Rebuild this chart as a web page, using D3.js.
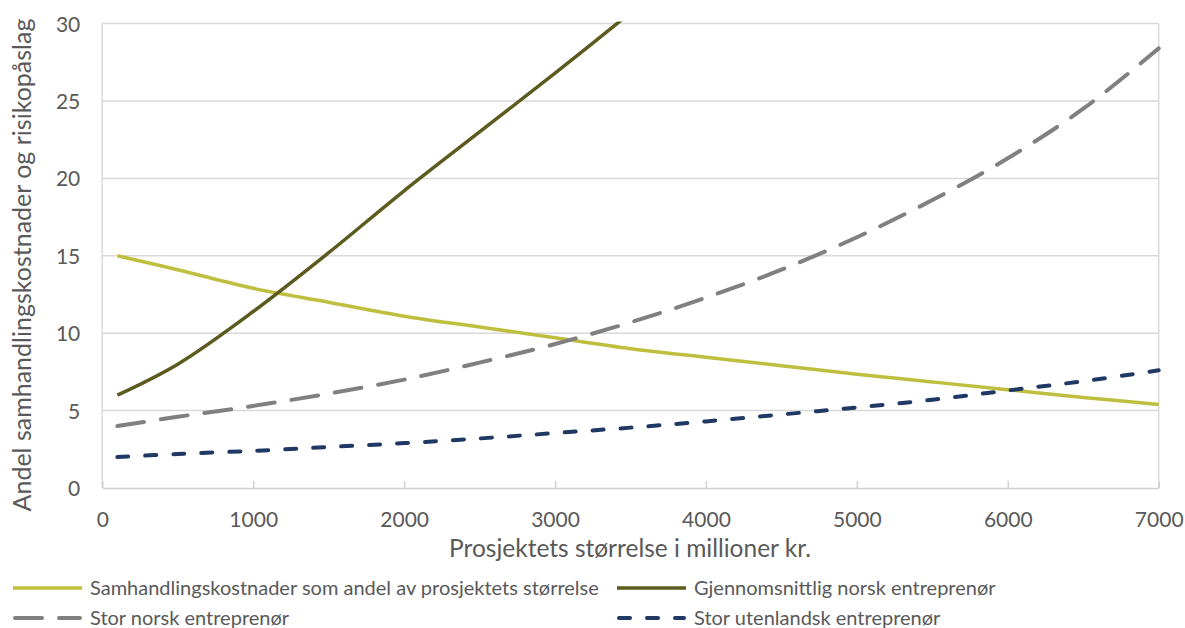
<!DOCTYPE html>
<html><head><meta charset="utf-8">
<script src="https://cdn.jsdelivr.net/npm/d3@7"></script>
<style>body{margin:0;background:#fff}svg{display:block}text{font-family:Lato,"Open Sans",sans-serif;fill:#595959}</style>
</head><body>
<svg id="c" width="1185" height="628"></svg>
<script>
const xValues = [100, 500, 1000, 1500, 2000, 2500, 3000, 3500, 4000, 4500, 5000, 5500, 6000, 6500, 7000];
const samhandling = [15, 14.1, 12.9, 12.0, 11.1, 10.4, 9.7, 9.0, 8.45, 7.9, 7.35, 6.85, 6.35, 5.85, 5.4];
const gjennomsnittligX = [100, 500, 1000, 1500, 2000, 2500, 3000, 3500];
const gjennomsnittlig = [6, 8.0, 11.4, 15.2, 19.2, 23.0, 26.8, 30.7];
const storNorsk = [4.0, 4.6, 5.3, 6.1, 7.0, 8.1, 9.3, 10.7, 12.3, 14.1, 16.2, 18.6, 21.3, 24.5, 28.4];
const storUtenlandsk = [2.0, 2.2, 2.4, 2.65, 2.9, 3.2, 3.55, 3.9, 4.3, 4.75, 5.2, 5.7, 6.3, 6.9, 7.6];
const xTicks = [0, 1000, 2000, 3000, 4000, 5000, 6000, 7000];
const yTicks = [0, 5, 10, 15, 20, 25, 30];
const seriesNames = ["Samhandlingskostnader som andel av prosjektets størrelse", "Gjennomsnittlig norsk entreprenør", "Stor norsk entreprenør", "Stor utenlandsk entreprenør"];
const xTitle = "Prosjektets størrelse i millioner kr.";
const yTitle = "Andel samhandlingskostnader og risikopåslag";

const svg = d3.select("#c");
const L = 102.3, R = 1158.7, T = 23.6, B = 488;
const x = d3.scaleLinear().domain([0, 7000]).range([L, R]);
const y = d3.scaleLinear().domain([0, 30]).range([B, T]);

// gridlines
svg.append("g").selectAll("line").data(yTicks.filter(d => d > 0)).join("line")
  .attr("x1", L).attr("x2", R).attr("y1", d => y(d)).attr("y2", d => y(d))
  .attr("stroke", "#d9d9d9").attr("stroke-width", 1.5);
// side borders
svg.append("line").attr("x1", L).attr("x2", L).attr("y1", T).attr("y2", B).attr("stroke", "#d9d9d9").attr("stroke-width", 1.5);
svg.append("line").attr("x1", R).attr("x2", R).attr("y1", T).attr("y2", B).attr("stroke", "#d9d9d9").attr("stroke-width", 1.5);

// x axis
const xa = svg.append("g").attr("transform", `translate(0,${B})`)
  .call(d3.axisBottom(x).tickValues(xTicks).tickSizeInner(-7).tickSizeOuter(0).tickPadding(0).tickFormat(d3.format("d")));
xa.select(".domain").attr("stroke", "#d0d0d0").attr("stroke-width", 1.5);
xa.selectAll(".tick line").attr("stroke", "#d0d0d0").attr("stroke-width", 1.5);
xa.selectAll(".tick text").attr("y", 39).attr("dy", null).attr("font-size", 21).style("fill", "#595959");

// y axis labels
const ya = svg.append("g").attr("transform", `translate(${L},0)`)
  .call(d3.axisLeft(y).tickValues(yTicks).tickSize(0).tickPadding(22));
ya.select(".domain").remove();
ya.selectAll(".tick text").attr("font-size", 21).attr("dy", "0.36em").style("fill", "#595959");

// titles
svg.append("text").attr("x", 630).attr("y", 557).attr("text-anchor", "middle").attr("font-size", 24.5).text(xTitle);
svg.append("text").attr("transform", "translate(31,265) rotate(-90)").attr("text-anchor", "middle").attr("font-size", 25).text(yTitle);

// clip
svg.append("clipPath").attr("id", "pc").append("rect").attr("x", L).attr("y", T - 2).attr("width", R - L + 3).attr("height", B - T + 2);

const line = d3.line().x(d => x(d[0])).y(d => y(d[1])).curve(d3.curveCatmullRom.alpha(0.5));
const styles = [
  {color: "#bfbf3f", w: 3.5, dash: null},
  {color: "#5b5b1f", w: 3.5, dash: null},
  {color: "#808080", w: 4, dash: "27,17"},
  {color: "#1f3864", w: 4, dash: "11,17"}
];
const data = [
  xValues.map((v, i) => [v, samhandling[i]]),
  gjennomsnittligX.map((v, i) => [v, gjennomsnittlig[i]]),
  xValues.map((v, i) => [v, storNorsk[i]]),
  xValues.map((v, i) => [v, storUtenlandsk[i]])
];
const g = svg.append("g").attr("clip-path", "url(#pc)");
data.forEach((d, i) => {
  g.append("path").datum(d).attr("d", line).attr("fill", "none")
    .attr("stroke", styles[i].color).attr("stroke-width", styles[i].w)
    .attr("stroke-linecap", styles[i].dash ? "round" : "butt")
    .attr("stroke-dasharray", styles[i].dash);
});

// legend
const legPos = [[13, 588], [617, 588], [13, 618], [617, 618]];
seriesNames.forEach((name, i) => {
  const [lx, ly] = legPos[i];
  svg.append("line").attr("x1", lx + (styles[i].dash ? 2 : 0)).attr("x2", lx + 69 - (styles[i].dash ? 2 : 0)).attr("y1", ly).attr("y2", ly)
    .attr("stroke", styles[i].color).attr("stroke-width", styles[i].w)
    .attr("stroke-linecap", styles[i].dash ? "round" : "butt")
    .attr("stroke-dasharray", styles[i].dash);
  svg.append("text").attr("x", lx + 77).attr("y", ly).attr("dy", "0.35em").attr("font-size", 20).text(name);
});
</script>
</body></html>
